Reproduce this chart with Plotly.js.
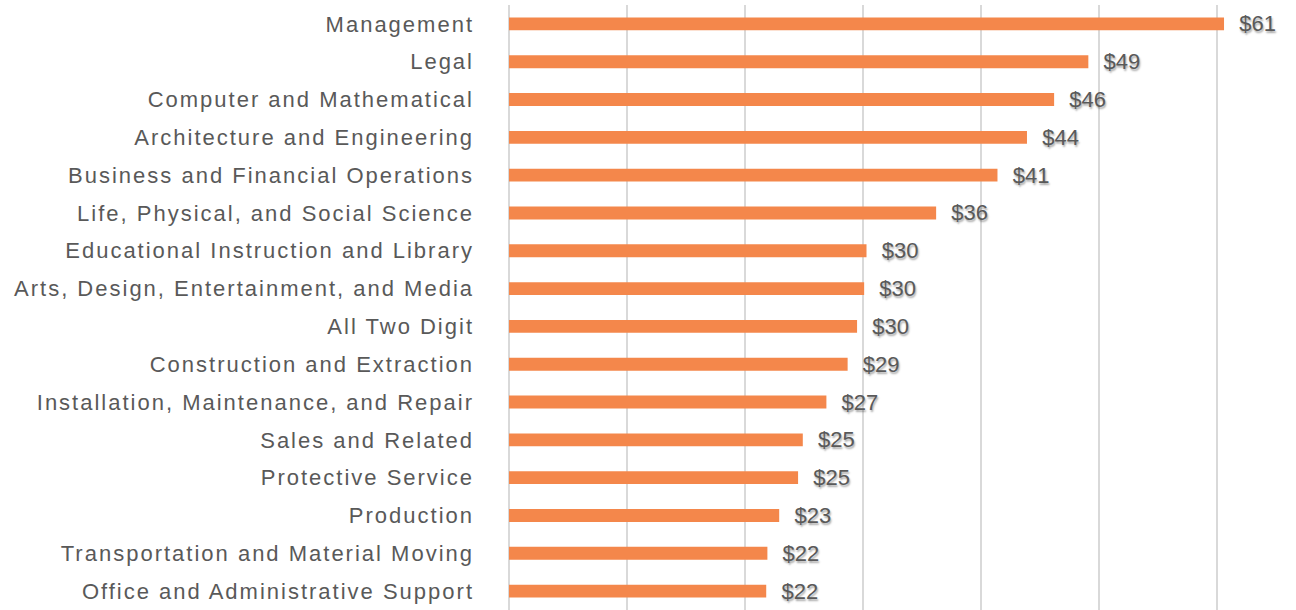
<!DOCTYPE html>
<html>
<head>
<meta charset="utf-8">
<script src="https://cdn.plot.ly/plotly-3.0.1.min.js"></script>
<style>
  html, body { margin: 0; padding: 0; background: #fff; }
  #plot { width: 1296px; height: 610px; }
  /* the original font is spaced out quite a bit */
  #plot .ytick text { letter-spacing: 2px; }
  #plot .bartext text { letter-spacing: 1px; }
</style>
</head>
<body>
<div id="plot"></div>
<script>
// Occupation groups, top to bottom
var occupations = [
    'Management',
    'Legal',
    'Computer and Mathematical',
    'Architecture and Engineering',
    'Business and Financial Operations',
    'Life, Physical, and Social Science',
    'Educational Instruction and Library',
    'Arts, Design, Entertainment, and Media',
    'All Two Digit',
    'Construction and Extraction',
    'Installation, Maintenance, and Repair',
    'Sales and Related',
    'Protective Service',
    'Production',
    'Transportation and Material Moving',
    'Office and Administrative Support'
];

// Hourly wage (dollars)
var wages = [60.6, 49.1, 46.2, 43.9, 41.4, 36.2, 30.3, 30.1, 29.5, 28.7, 26.9, 24.9, 24.5, 22.9, 21.9, 21.8];

var labels = wages.map(function (v) { return '  $' + Math.round(v); });

var trace = {
    type: 'bar',
    orientation: 'h',
    y: occupations,
    x: wages,
    width: 0.34,
    marker: { color: '#F4874B' },
    text: labels,
    textposition: 'outside',
    constraintext: 'none',
    cliponaxis: false,
    textfont: {
        family: 'Liberation Sans, Arial, sans-serif',
        size: 22,
        color: '#595959',
        shadow: '1px 2px 2px rgba(0,0,0,0.35)'
    },
    hoverinfo: 'none'
};

var layout = {
    width: 1296,
    height: 610,
    margin: { l: 509, r: 0, t: 5, b: 0 },
    paper_bgcolor: '#ffffff',
    plot_bgcolor: '#ffffff',
    showlegend: false,
    font: { family: 'Liberation Sans, Arial, sans-serif', color: '#595959' },
    xaxis: {
        range: [0, 66.7],
        dtick: 10,
        showgrid: true,
        gridcolor: '#d9d9d9',
        gridwidth: 2,
        zeroline: true,
        zerolinecolor: '#d9d9d9',
        zerolinewidth: 2,
        showticklabels: false,
        fixedrange: true
    },
    yaxis: {
        autorange: 'reversed',
        showgrid: false,
        zeroline: false,
        ticklabelstandoff: 34,
        tickfont: { size: 22, color: '#595959' },
        fixedrange: true
    }
};

Plotly.newPlot('plot', [trace], layout, { displayModeBar: false, staticPlot: true });
</script>
</body>
</html>
